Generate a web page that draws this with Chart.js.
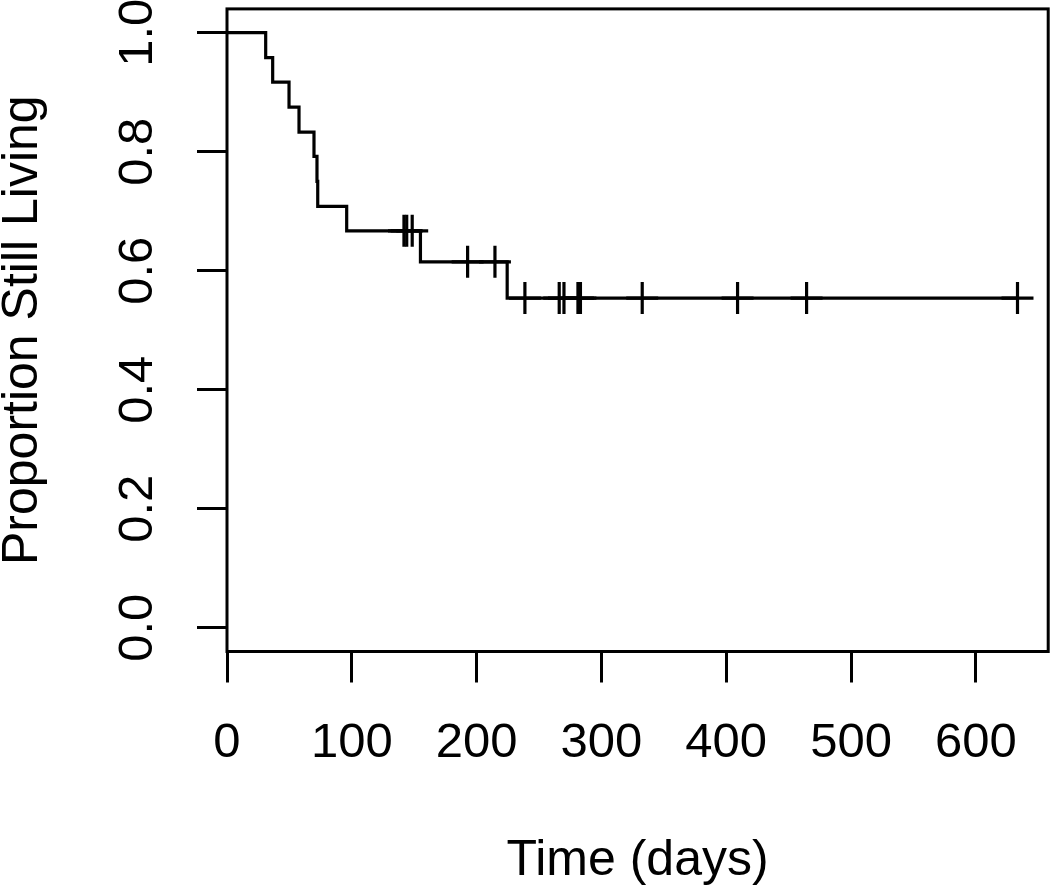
<!DOCTYPE html>
<html>
<head>
<meta charset="utf-8">
<title>Proportion Still Living</title>
<script src="https://cdn.jsdelivr.net/npm/chart.js@4/dist/chart.umd.min.js"></script>
<style>
  html, body { margin: 0; padding: 0; background: #fff; }
  #wrap { width: 1050px; height: 889px; }
</style>
</head>
<body>
<div id="wrap"><canvas id="kmChart" width="1050" height="889"></canvas></div>
<script>
// --- Data ---
// step curve: event times (days) and survival after each event
const stepTimes = [0, 31.0, 36.6, 49.7, 57.7, 69.7, 72.1, 72.7, 95.9, 155.0, 224.5, 633.4];
const stepSurv  = [1.0, 0.958, 0.917, 0.875, 0.833, 0.792, 0.750, 0.708, 0.667, 0.615, 0.554, 0.554];

// censored observations ("+" marks)
const censorTimes = [141.8, 144.0, 148.4, 192.8, 214.7, 238.7, 266.2, 270.0, 281.2, 283.2, 332.7, 409.1, 464.4, 633.4];
const censorSurv  = [0.667, 0.667, 0.667, 0.615, 0.615, 0.554, 0.554, 0.554, 0.554, 0.554, 0.554, 0.554, 0.554, 0.554];

const xTickVals = [0, 100, 200, 300, 400, 500, 600];
const yTickVals = [0.0, 0.2, 0.4, 0.6, 0.8, 1.0];

const xTitle = 'Time (days)';
const yTitle = 'Proportion Still Living';

document.addEventListener('DOMContentLoaded', () => {
    const FONT = '"Liberation Sans", Arial, Helvetica, sans-serif';

    // frame around the plot region, like R's box()
    const boxPlugin = {
        id: 'plotBox',
        afterDraw(chart) {
            const { ctx, chartArea: a } = chart;
            ctx.save();
            ctx.strokeStyle = '#000';
            ctx.lineWidth = 3;
            ctx.strokeRect(a.left, a.top, a.right - a.left, a.bottom - a.top);
            ctx.restore();
        }
    };

    const ctx = document.getElementById('kmChart').getContext('2d');
    new Chart(ctx, {
        type: 'scatter',
        data: {
            datasets: [
                {
                    type: 'line',
                    label: 'survival',
                    data: stepTimes.map((t, i) => ({ x: t, y: stepSurv[i] })),
                    stepped: 'before',
                    borderColor: '#000',
                    borderWidth: 3.2,
                    pointRadius: 0,
                    fill: false
                },
                {
                    label: 'censored',
                    data: censorTimes.map((t, i) => ({ x: t, y: censorSurv[i] })),
                    pointStyle: 'cross',
                    pointRadius: 16,
                    pointBorderWidth: 3.2,
                    borderColor: '#000',
                    backgroundColor: '#000'
                }
            ]
        },
        options: {
            responsive: false,
            animation: false,
            devicePixelRatio: 1,
            layout: {
                autoPadding: false,
                padding: { left: 0, top: 8.9, right: 1.8, bottom: 0 }
            },
            plugins: {
                legend: { display: false },
                tooltip: { enabled: false }
            },
            scales: {
                x: {
                    type: 'linear',
                    min: 0,
                    max: 658,
                    afterBuildTicks: s => { s.ticks = xTickVals.map(v => ({ value: v })); },
                    afterFit: s => {
                        s.height = 889 - 651.5;
                        s.paddingLeft = 0;
                        s.paddingRight = 0;
                    },
                    border: { display: false },
                    grid: {
                        drawOnChartArea: false,
                        tickLength: 31,
                        tickColor: '#000',
                        tickWidth: 3
                    },
                    ticks: {
                        color: '#000',
                        padding: 32,
                        maxRotation: 0,
                        autoSkip: false,
                        font: { family: FONT, size: 49 },
                        callback: v => String(v)
                    },
                    title: {
                        display: true,
                        text: xTitle,
                        color: '#000',
                        font: { family: FONT, size: 50, lineHeight: 1 },
                        padding: { top: 0, bottom: 3 }
                    }
                },
                y: {
                    type: 'linear',
                    min: -0.04,
                    max: 1.04,
                    afterBuildTicks: s => { s.ticks = yTickVals.map(v => ({ value: v })); },
                    afterFit: s => {
                        s.width = 227;
                        s.paddingTop = 0;
                        s.paddingBottom = 0;
                    },
                    border: { display: false },
                    grid: {
                        drawOnChartArea: false,
                        tickLength: 30,
                        tickColor: '#000',
                        tickWidth: 3
                    },
                    ticks: {
                        color: '#000',
                        padding: 24,
                        minRotation: 90,
                        maxRotation: 90,
                        crossAlign: 'center',
                        autoSkip: false,
                        font: { family: FONT, size: 49 },
                        callback: v => Number(v).toFixed(1)
                    },
                    title: {
                        display: true,
                        text: yTitle,
                        color: '#000',
                        font: { family: FONT, size: 50, lineHeight: 1 },
                        padding: { top: -2, bottom: 0 }
                    }
                }
            }
        },
        plugins: [boxPlugin]
    });
});
</script>
</body>
</html>
